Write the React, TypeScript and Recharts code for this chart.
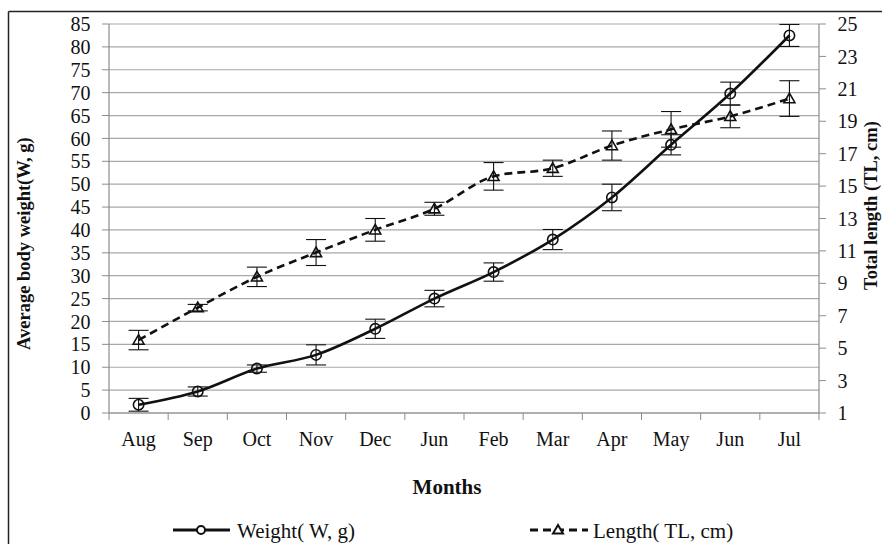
import React from "react";
import { LineChart, Line, XAxis, YAxis, CartesianGrid, ErrorBar } from "recharts";

const months = ["Aug", "Sep", "Oct", "Nov", "Dec", "Jun", "Feb", "Mar", "Apr", "May", "Jun", "Jul"];
const weight = [1.8, 4.7, 9.7, 12.7, 18.4, 25.0, 30.8, 37.9, 47.1, 58.6, 69.8, 82.5];
const weightErr = [1.4, 1.0, 0.8, 2.2, 2.1, 1.8, 2.0, 2.2, 2.9, 2.2, 2.5, 2.4];
const lengthTL = [5.5, 7.5, 9.4, 10.9, 12.3, 13.6, 15.6, 16.1, 17.5, 18.5, 19.3, 20.4];
const lengthErr = [0.6, 0.2, 0.6, 0.8, 0.7, 0.4, 0.85, 0.5, 0.9, 1.1, 0.7, 1.1];
const leftTicks = [0, 5, 10, 15, 20, 25, 30, 35, 40, 45, 50, 55, 60, 65, 70, 75, 80, 85];
const rightTicks = [1, 3, 5, 7, 9, 11, 13, 15, 17, 19, 21, 23, 25];

const data = months.map((m, i) => ({
  month: m,
  weight: weight[i],
  wErr: weightErr[i],
  length: lengthTL[i],
  lErr: lengthErr[i],
}));

const W = 882;
const H = 544;
const LEFT_W = 109;
const RIGHT_W = 63;
const TOP = 24;
const XAXIS_H = 40;
const BOTTOM = 91;
const FONT = "'Liberation Serif', 'Times New Roman', serif";
const AXIS_COLOR = "#8c8c8c";
const GRID_COLOR = "#a8a8a8";
const TICK_SIZE = 7;
const TICK_MARGIN = 11.5;
const BW = (W - LEFT_W - RIGHT_W) / months.length;

const XTick = (props: any) => {
  const { x, y, payload, index } = props;
  const ly1 = y - TICK_SIZE - TICK_MARGIN;
  const ly2 = y - TICK_MARGIN;
  return (
    <g>
      <line x1={x - BW / 2} x2={x - BW / 2} y1={ly1} y2={ly2} stroke={AXIS_COLOR} strokeWidth={1} />
      {index === months.length - 1 && (
        <line x1={x + BW / 2} x2={x + BW / 2} y1={ly1} y2={ly2} stroke={AXIS_COLOR} strokeWidth={1} />
      )}
      <text x={x} y={y} dy="0.71em" textAnchor="middle" fontFamily={FONT} fontSize={20} fill="#111">
        {payload.value}
      </text>
    </g>
  );
};

const CircleDot = (props: any) => {
  const { cx, cy, index } = props;
  if (cx == null || cy == null) return <g key={index} />;
  return <circle key={index} cx={cx} cy={cy} r={5.2} fill="none" stroke="#111" strokeWidth={1.6} />;
};

const TriDot = (props: any) => {
  const { cx, cy, index } = props;
  if (cx == null || cy == null) return <g key={index} />;
  const s = 5.5;
  const pts = `${cx},${cy - s} ${cx - s},${cy + s * 0.75} ${cx + s},${cy + s * 0.75}`;
  return <polygon key={index} points={pts} fill="none" stroke="#111" strokeWidth={1.6} />;
};

export default function App() {
  return (
    <div style={{ position: "absolute", left: 0, top: 0, width: W, height: H, background: "#fff" }}>
      <LineChart
        width={W}
        height={H}
        data={data}
        margin={{ top: TOP, right: 0, left: 0, bottom: BOTTOM }}
      >
        <CartesianGrid yAxisId="left" vertical={false} stroke={GRID_COLOR} strokeWidth={1.2} />
        <XAxis
          dataKey="month"
          height={XAXIS_H}
          tick={<XTick />}
          tickLine={false}
          tickSize={TICK_SIZE}
          tickMargin={TICK_MARGIN}
          axisLine={{ stroke: AXIS_COLOR, strokeWidth: 1.2 }}
          interval={0}
          padding={{ left: BW / 2, right: BW / 2 }}
        />
        <YAxis
          yAxisId="left"
          orientation="left"
          width={LEFT_W}
          domain={[0, 85]}
          ticks={leftTicks}
          interval={0}
          tickSize={TICK_SIZE}
          tickMargin={TICK_MARGIN}
          tick={{ fontFamily: FONT, fontSize: 20, fill: "#111" }}
          tickLine={{ stroke: AXIS_COLOR }}
          axisLine={{ stroke: AXIS_COLOR, strokeWidth: 1.2 }}
        />
        <YAxis
          yAxisId="right"
          orientation="right"
          width={RIGHT_W}
          domain={[1, 25]}
          ticks={rightTicks}
          interval={0}
          tickSize={TICK_SIZE}
          tickMargin={TICK_MARGIN}
          tick={{ fontFamily: FONT, fontSize: 20, fill: "#111", textAnchor: "start" }}
          tickLine={{ stroke: AXIS_COLOR }}
          axisLine={{ stroke: AXIS_COLOR, strokeWidth: 1.2 }}
        />
        <Line
          yAxisId="right"
          type="monotone"
          dataKey="length"
          stroke="#111"
          strokeWidth={2.6}
          strokeDasharray="8 5"
          dot={<TriDot />}
          activeDot={false}
          isAnimationActive={false}
        >
          <ErrorBar dataKey="lErr" width={10} stroke="#111" strokeWidth={1.1} direction="y" />
        </Line>
        <Line
          yAxisId="left"
          type="monotone"
          dataKey="weight"
          stroke="#111"
          strokeWidth={2.6}
          dot={<CircleDot />}
          activeDot={false}
          isAnimationActive={false}
        >
          <ErrorBar dataKey="wErr" width={10} stroke="#111" strokeWidth={1.1} direction="y" />
        </Line>
      </LineChart>
      <svg
        width={W}
        height={H}
        style={{ position: "absolute", left: 0, top: 0, pointerEvents: "none" }}
      >
        <line x1={8.5} y1={11.5} x2={W} y2={11.5} stroke="#222" strokeWidth={1.5} />
        <line x1={8.5} y1={11.5} x2={8.5} y2={H} stroke="#222" strokeWidth={1.5} />
        <text
          x={24}
          y={350}
          transform="rotate(-90 24 350)"
          textAnchor="start"
          dominantBaseline="central"
          fontFamily={FONT}
          fontWeight="bold"
          fontSize={18.5}
          fill="#111"
        >
          Average body weight(W, g)
        </text>
        <text
          x={871}
          y={290}
          transform="rotate(-90 871 290)"
          textAnchor="start"
          dominantBaseline="central"
          fontFamily={FONT}
          fontWeight="bold"
          fontSize={18.5}
          fill="#111"
        >
          Total length (TL, cm)
        </text>
        <text x={447} y={494} textAnchor="middle" fontFamily={FONT} fontWeight="bold" fontSize={21} fill="#111">
          Months
        </text>
        <line x1={173} y1={530} x2={230} y2={530} stroke="#111" strokeWidth={3} />
        <circle cx={201} cy={530} r={4} fill="#fff" stroke="#111" strokeWidth={2} />
        <text x={237} y={538} fontFamily={FONT} fontSize={21} fill="#111">
          Weight( W, g)
        </text>
        <line x1={530} y1={530} x2={588} y2={530} stroke="#111" strokeWidth={3} strokeDasharray="8 5" />
        <polygon points="558,525 553,533.5 563,533.5" fill="#fff" stroke="#111" strokeWidth={2} />
        <text x={593} y={538} fontFamily={FONT} fontSize={21} fill="#111">
          Length( TL, cm)
        </text>
      </svg>
    </div>
  );
}
